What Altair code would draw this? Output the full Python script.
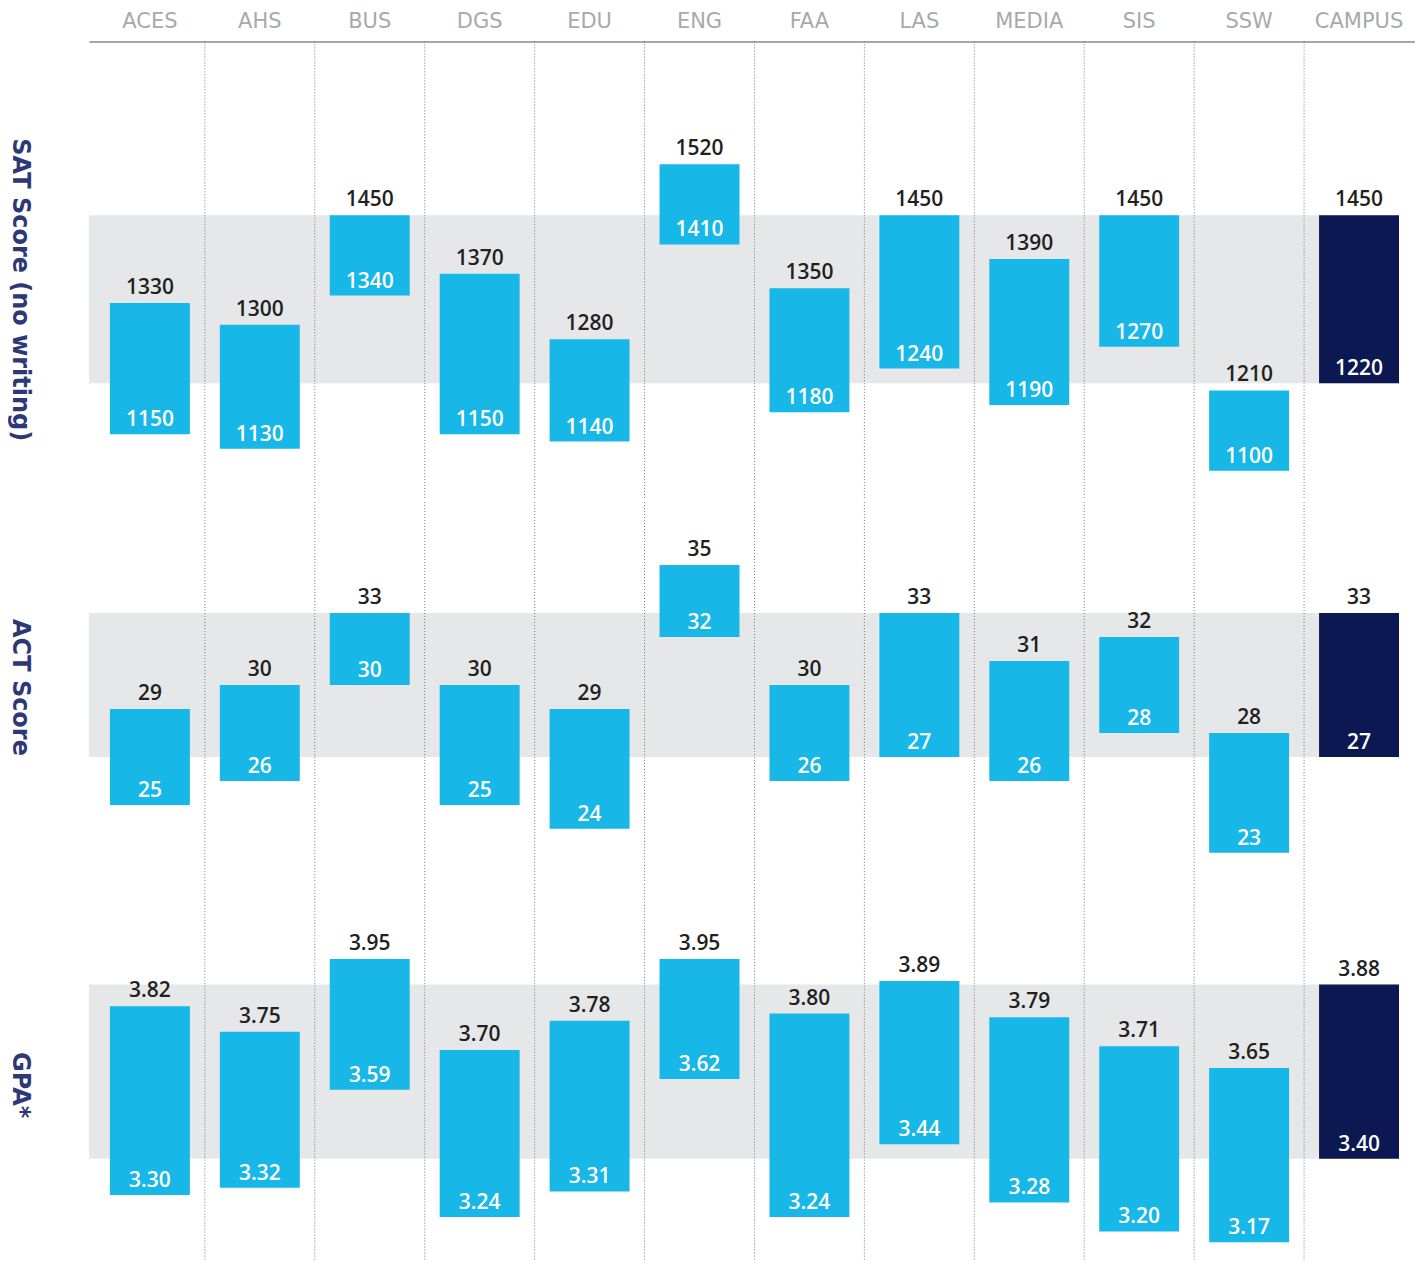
import altair as alt
import pandas as pd

schools = ["ACES", "AHS", "BUS", "DGS", "EDU", "ENG", "FAA", "LAS", "MEDIA", "SIS", "SSW", "CAMPUS"]

sat_high = [1330, 1300, 1450, 1370, 1280, 1520, 1350, 1450, 1390, 1450, 1210, 1450]
sat_low = [1150, 1130, 1340, 1150, 1140, 1410, 1180, 1240, 1190, 1270, 1100, 1220]

act_high = [29, 30, 33, 30, 29, 35, 30, 33, 31, 32, 28, 33]
act_low = [25, 26, 30, 25, 24, 32, 26, 27, 26, 28, 23, 27]

gpa_high = [3.82, 3.75, 3.95, 3.70, 3.78, 3.95, 3.80, 3.89, 3.79, 3.71, 3.65, 3.88]
gpa_low = [3.30, 3.32, 3.59, 3.24, 3.31, 3.62, 3.24, 3.44, 3.28, 3.20, 3.17, 3.40]

row_titles = ["SAT Score (no writing)", "ACT Score", "GPA*"]

# ---- layout / style ----
W = 1327
STEP = 110
BAR = 80
N = len(schools)
P_IN = (STEP - BAR) / STEP
P_OUT = (W / STEP - N + P_IN) / 2
FIRST = 21
ALIGN = FIRST / (W - STEP * (N - P_IN))
BAND_X2 = FIRST + (N - 1) * STEP + BAR

CYAN = "#17b7e8"
NAVY = "#0b1852"
BAND = "#e6e7e8"
DARK = "#231f20"
ROWC = "#2e3877"
HEADC = "#a7a9ac"
NUMFONT = "Open Sans"

x_scale = alt.Scale(domain=schools, paddingInner=P_IN, paddingOuter=P_OUT, align=ALIGN)


def panel(title, high, low, fmt, domain, height, title_y, top_axis):
    df = pd.DataFrame({"school": schools, "high": high, "low": low})
    df["campus"] = df["school"] == "CAMPUS"
    df["hi_lbl"] = [format(v, fmt) for v in high]
    df["lo_lbl"] = [format(v, fmt) for v in low]
    band_df = pd.DataFrame({"high": [high[-1]], "low": [low[-1]]})

    yscale = alt.Scale(domain=domain, zero=False, nice=False)
    yaxis = alt.Axis(
        title=title, labels=False, ticks=False, domain=False, grid=False,
        titleAngle=90, titleX=-76, titleY=title_y, titleAlign="center",
        titleBaseline="alphabetic", titleFont="DejaVu Sans", titleFontSize=24,
        titleFontWeight="bold", titleColor=ROWC,
    )
    if top_axis:
        xaxis = alt.Axis(
            orient="top", title=None, ticks=False, labelPadding=10, labelAngle=0,
            labelFont="DejaVu Sans", labelFontSize=21, labelColor=HEADC,
            labelFontWeight="normal", domainColor="#8a8a8a", domainWidth=1.5, grid=False,
        )
    else:
        xaxis = None

    X = alt.X("school:N", scale=x_scale, axis=xaxis, sort=schools)

    band = alt.Chart(band_df).mark_rect(color=BAND).encode(
        x=alt.value(0), x2=alt.value(BAND_X2),
        y=alt.Y("high:Q", scale=yscale, axis=yaxis), y2="low:Q",
    )
    rules = alt.Chart(df).transform_filter(
        alt.datum.school != "ACES"
    ).mark_rule(xOffset=-STEP / 2, color="#767676", strokeDash=[1, 2], strokeWidth=1).encode(
        x=X, y=alt.value(0), y2=alt.value(height),
    )
    bars = alt.Chart(df).mark_bar(size=BAR).encode(
        x=X,
        y=alt.Y("high:Q", scale=yscale, axis=yaxis), y2="low:Q",
        color=alt.condition(alt.datum.campus, alt.value(NAVY), alt.value(CYAN)),
    )
    top_txt = alt.Chart(df).mark_text(
        dy=-9, baseline="alphabetic", font=NUMFONT, fontSize=21, fontWeight=600, color=DARK
    ).encode(x=X, y=alt.Y("high:Q", scale=yscale, axis=yaxis), text="hi_lbl:N")
    low_txt = alt.Chart(df).mark_text(
        dy=-8, baseline="alphabetic", font=NUMFONT, fontSize=21, fontWeight=600, color="white"
    ).encode(x=X, y=alt.Y("low:Q", scale=yscale, axis=yaxis), text="lo_lbl:N")

    return alt.layer(band, rules, bars, top_txt, low_txt).properties(width=W, height=height)


sat = panel(row_titles[0], sat_high, sat_low, "d", [1059.8, 1688.2], 459, 248, True)
act = panel(row_titles[1], act_high, act_low, "d", [21.792, 37.625], 380, 185, False)
gpa = panel(row_titles[2], gpa_high, gpa_low, ".2f", [3.117, 4.1574], 378, 201, False)

chart = alt.vconcat(sat, act, gpa, spacing=0).resolve_scale(y="independent").properties(
    padding={"top": 2, "left": 0, "right": 0, "bottom": 0}
).configure_view(stroke=None)

chart.save("out.html", embed_options={"renderer": "svg", "actions": False})
